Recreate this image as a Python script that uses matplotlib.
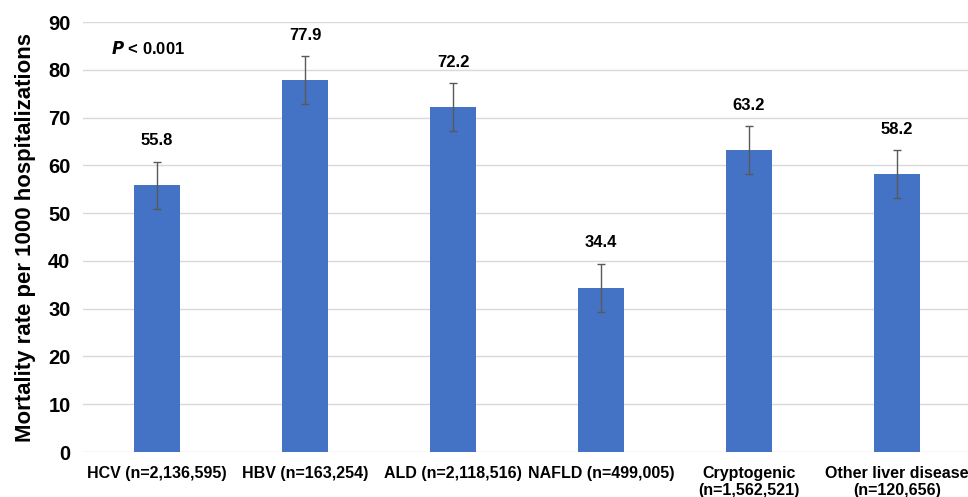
import matplotlib.pyplot as plt

plt.rcParams['font.family'] = ['Liberation Sans', 'DejaVu Sans']
plt.rcParams['font.weight'] = 'bold'

# Data
categories = ["HCV (n=2,136,595)", "HBV (n=163,254)", "ALD (n=2,118,516)",
              "NAFLD (n=499,005)", "Cryptogenic\n(n=1,562,521)",
              "Other liver disease\n(n=120,656)"]
rates = [55.8, 77.9, 72.2, 34.4, 63.2, 58.2]
errors = [5.0, 5.0, 5.0, 5.0, 5.0, 5.0]

fig = plt.figure(figsize=(9.68, 4.97), dpi=100)
ax = fig.add_axes([83 / 968, 1 - 452 / 497, 888 / 968, 430 / 497])

x = range(len(categories))
ax.bar(x, rates, width=0.31, color="#4472c4", zorder=2)
ax.errorbar(x, rates, yerr=errors, fmt="none", ecolor="#595959",
            elinewidth=1, capsize=3, capthick=1, zorder=3)

for i, (v, e) in enumerate(zip(rates, errors)):
    ax.text(i, v + e + 2.8, f"{v:.1f}", ha="center", va="bottom",
            fontsize=12, fontweight="bold")

ax.text(-0.06, 84.5, "$\\mathbfit{P}$ < 0.001", ha="center", va="center",
        fontsize=12, fontweight="bold")

ax.set_xlim(-0.5, 5.5)
ax.set_ylim(0, 90)
ax.set_yticks(range(0, 91, 10))
ax.set_xticks(list(x))
ax.set_xticklabels(categories, fontsize=11.5, fontweight="bold", linespacing=1.15)
ax.tick_params(axis="y", labelsize=14.5, length=0, pad=9)
ax.tick_params(axis="x", length=0, pad=10)
ax.set_ylabel("Mortality rate per 1000 hospitalizations", fontsize=16,
              fontweight="bold", labelpad=9)
ax.yaxis.grid(True, color="#d9d9d9", linewidth=1, zorder=0)
for s in ax.spines.values():
    s.set_visible(False)

plt.savefig("out.png", dpi=100)
